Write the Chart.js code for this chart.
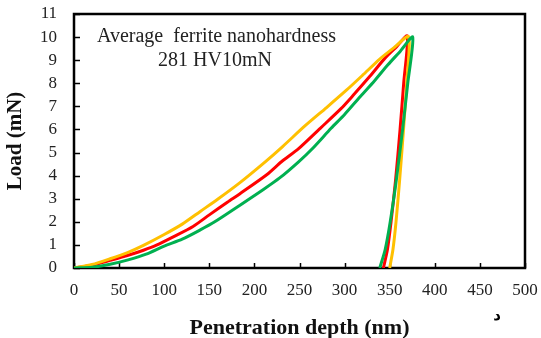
<!DOCTYPE html>
<html>
<head>
<meta charset="utf-8">
<script src="https://cdn.jsdelivr.net/npm/chart.js@4.4.1/dist/chart.umd.min.js"></script>
<style>
  html, body { margin: 0; padding: 0; background: #fff; }
  #wrap { width: 541px; height: 338px; position: relative; }
</style>
</head>
<body>
<div id="wrap"><canvas id="c" width="541" height="338"></canvas></div>
<script>
// Load–depth curves (loading branch followed by unloading branch), depth in nm, load in mN
const yellowDepth = [0, 20, 40, 60, 77, 100, 120, 140, 160, 184, 212, 231, 256, 280, 302, 320, 339, 355, 371,
                     368.8, 365.3, 361, 357, 353.6, 350];
const yellowLoad  = [0, 0.15, 0.4, 0.68, 0.98, 1.45, 1.9, 2.45, 3.0, 3.7, 4.6, 5.25, 6.15, 6.95, 7.7, 8.35, 9.05, 9.55, 10.02,
                     8, 6, 3.8, 2, 0.8, 0];

const redDepth = [0, 20, 40, 60, 77, 92, 110, 132, 150, 170, 184, 214, 230, 249, 273, 296, 310, 328, 345, 358, 369.5,
                  365.5, 361.5, 356.5, 351.5, 347.5, 343];
const redLoad  = [0, 0.12, 0.33, 0.55, 0.77, 1.0, 1.35, 1.8, 2.3, 2.85, 3.22, 4.05, 4.6, 5.17, 6.05, 6.9, 7.5, 8.3, 9.1, 9.6, 10.05,
                  8, 6, 3.8, 2, 0.8, 0];

const greenDepth = [0, 20, 40, 60, 80, 100, 120, 140, 156, 184, 210, 228, 249, 265, 285, 300, 318, 333, 348, 362, 375.5,
                    370, 364.3, 357.3, 350.6, 345, 339];
const greenLoad  = [0, 0.03, 0.16, 0.35, 0.6, 0.95, 1.25, 1.65, 2.0, 2.72, 3.4, 3.9, 4.6, 5.2, 6.05, 6.65, 7.45, 8.1, 8.8, 9.4, 10.0,
                    8, 6, 3.8, 2, 0.8, 0];

const xTicks = [0, 50, 100, 150, 200, 250, 300, 350, 400, 450, 500];
const yTicks = [0, 1, 2, 3, 4, 5, 6, 7, 8, 9, 10, 11];

const noteLines = ['Average  ferrite nanohardness', '281 HV10mN'];
const xTitle = 'Penetration depth (nm)';
const yTitle = 'Load (mN)';
const cornerMark = 'د';

const toPoints = (xs, ys) => xs.map((v, i) => ({ x: v, y: ys[i] }));

const serif = '"Liberation Serif", "Times New Roman", serif';

// Inner tick marks and the box around the plot area
const frameAndTicks = {
  id: 'frameAndTicks',
  beforeDatasetsDraw(chart) {
    const { ctx, chartArea: a, scales: { x, y } } = chart;
    ctx.save();
    ctx.strokeStyle = '#000';
    ctx.lineWidth = 1.5;
    xTicks.forEach(v => {
      const px = Math.round(x.getPixelForValue(v)) + 0.5;
      ctx.beginPath(); ctx.moveTo(px, a.bottom); ctx.lineTo(px, a.bottom - 5); ctx.stroke();
    });
    yTicks.forEach(v => {
      const py = Math.round(y.getPixelForValue(v)) + 0.5;
      ctx.beginPath(); ctx.moveTo(a.left, py); ctx.lineTo(a.left + 6, py); ctx.stroke();
    });
    ctx.lineWidth = 2.5;
    ctx.strokeRect(a.left, a.top, a.right - a.left, a.bottom - a.top);
    ctx.restore();
  },
  afterDraw(chart) {
    const { ctx, chartArea: a } = chart;
    ctx.save();
    ctx.fillStyle = '#222';
    ctx.font = '20px ' + serif;
    ctx.textBaseline = 'middle';
    ctx.textAlign = 'left';
    ctx.fillText(noteLines[0], a.left + 23, a.top + 23);
    ctx.textAlign = 'center';
    ctx.fillText(noteLines[1], a.left + 141, a.top + 47);
    ctx.fillStyle = '#000';
    ctx.font = 'bold 15px "DejaVu Sans", sans-serif';
    ctx.fillText(cornerMark, a.right - 28, 316);
    ctx.restore();
  }
};

new Chart(document.getElementById('c'), {
  type: 'scatter',
  data: {
    datasets: [
      { data: toPoints(greenDepth, greenLoad), borderColor: '#00B050' },
      { data: toPoints(yellowDepth, yellowLoad), borderColor: '#FFC000' },
      { data: toPoints(redDepth, redLoad), borderColor: '#FF0000' }
    ].map(d => Object.assign(d, {
      showLine: true, pointRadius: 0, borderWidth: 3, tension: 0.25, fill: false
    }))
  },
  options: {
    responsive: false,
    animation: false,
    events: [],
    layout: { padding: { top: 14, right: 16, left: 0, bottom: 0 } },
    plugins: { legend: { display: false }, tooltip: { enabled: false } },
    scales: {
      x: {
        type: 'linear', min: 0, max: 500,
        afterBuildTicks: s => { s.ticks = xTicks.map(v => ({ value: v })); },
        afterFit: s => { s.height = 70; s.paddingLeft = 0; s.paddingRight = 0; },
        grid: { display: false, drawTicks: false },
        border: { display: false },
        ticks: { padding: 12, autoSkip: false, maxRotation: 0, color: '#222', font: { family: serif, size: 17 } },
        title: { display: true, text: xTitle, color: '#111',
                 font: { family: serif, size: 22, weight: 'bold', lineHeight: 1.0 },
                 padding: { top: 0, bottom: -1 } }
      },
      y: {
        type: 'linear', min: 0, max: 11,
        afterBuildTicks: s => { s.ticks = yTicks.map(v => ({ value: v })); },
        afterFit: s => { s.width = 74; s.paddingTop = 0; s.paddingBottom = 0; },
        grid: { display: false, drawTicks: false },
        border: { display: false },
        ticks: { padding: 17, autoSkip: false, color: '#222', font: { family: serif, size: 17 } },
        title: { display: true, text: yTitle, color: '#111',
                 font: { family: serif, size: 21, weight: 'bold', lineHeight: 1.2 },
                 padding: { top: 3, bottom: 0 } }
      }
    }
  },
  plugins: [frameAndTicks]
});
</script>
</body>
</html>
